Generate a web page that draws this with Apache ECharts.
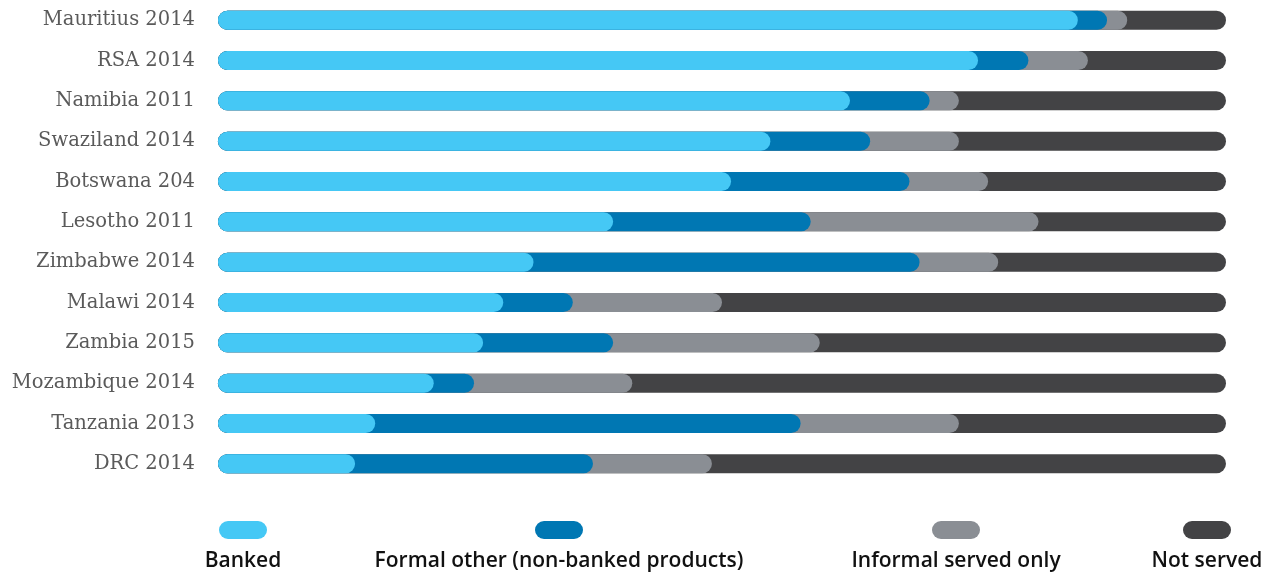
<!DOCTYPE html>
<html>
<head>
<meta charset="utf-8">
<script src="https://cdn.jsdelivr.net/npm/echarts@6/dist/echarts.min.js"></script>
<style>
  html, body { margin: 0; padding: 0; background: #fff; }
  #chart { width: 1271px; height: 574px; }
</style>
</head>
<body>
<div id="chart"></div>
<script>
// categories, top to bottom
const countries = ['Mauritius 2014', 'RSA 2014', 'Namibia 2011', 'Swaziland 2014', 'Botswana 204', 'Lesotho 2011',
  'Zimbabwe 2014', 'Malawi 2014', 'Zambia 2015', 'Mozambique 2014', 'Tanzania 2013', 'DRC 2014'];

// shares in %
const banked = [85.3, 75.4, 62.7, 54.8, 50.9, 39.2, 31.3, 28.3, 26.3, 21.4, 15.6, 13.6];
const formalOther = [2.9, 5.0, 7.9, 9.9, 17.7, 19.6, 38.3, 6.9, 12.9, 4.0, 42.2, 23.6];
const informalOnly = [2.0, 5.9, 2.9, 8.8, 7.8, 22.6, 7.8, 14.8, 20.5, 15.7, 15.7, 11.8];
const notServed = [9.8, 13.7, 26.5, 26.5, 23.6, 18.6, 22.6, 50.0, 40.3, 58.9, 26.5, 51.0];

const names = ['Banked', 'Formal other (non-banked products)', 'Informal served only', 'Not served'];
const colors = ['#45c8f5', '#0077b3', '#8a8e94', '#434345'];

// each segment is a pill from 0 to its running total, later ones drawn underneath
const parts = [banked, formalOther, informalOnly, notServed];
const cumulative = parts.map((arr, k) =>
  arr.map((v, i) => {
    let s = 0;
    for (let j = 0; j <= k; j++) s += parts[j][i];
    return +s.toFixed(1);
  })
);

const chart = echarts.init(document.getElementById('chart'));

const pill = 'path://M9,0 H39 A9,9 0 0 1 39,18 H9 A9,9 0 0 1 9,0 Z';
const legendX = [219, 535, 932, 1183];

const option = {
  animation: false,
  grid: { left: 218, right: 45, top: 0, bottom: 90 },
  xAxis: {
    type: 'value',
    min: 0,
    max: 100,
    show: false
  },
  yAxis: {
    type: 'category',
    data: countries,
    inverse: true,
    axisLine: { show: false },
    axisTick: { show: false },
    axisLabel: {
      margin: 23,
      padding: [5, 0, 0, 0],
      color: '#5a5a5a',
      fontFamily: 'DejaVu Serif',
      fontSize: 19.5
    }
  },
  legend: names.map((n, i) => ({
    data: [n],
    left: legendX[i],
    top: 521,
    padding: 0,
    icon: pill,
    itemWidth: 48,
    itemHeight: 18,
    selectedMode: false,
    formatter: () => ''
  })),
  graphic: names.map((n, i) => ({
    type: 'text',
    x: legendX[i] + 24,
    y: 561,
    style: {
      text: n,
      textAlign: 'center',
      textVerticalAlign: 'middle',
      fill: '#111',
      font: '600 21px "Open Sans"'
    }
  })),
  series: [3, 2, 1, 0].map(k => ({
    name: names[k],
    type: 'bar',
    data: cumulative[k],
    barWidth: 19,
    barGap: '-100%',
    itemStyle: { color: colors[k], borderRadius: 9.5 }
  }))
};

chart.setOption(option);
window.addEventListener('resize', chart.resize);
</script>
</body>
</html>
